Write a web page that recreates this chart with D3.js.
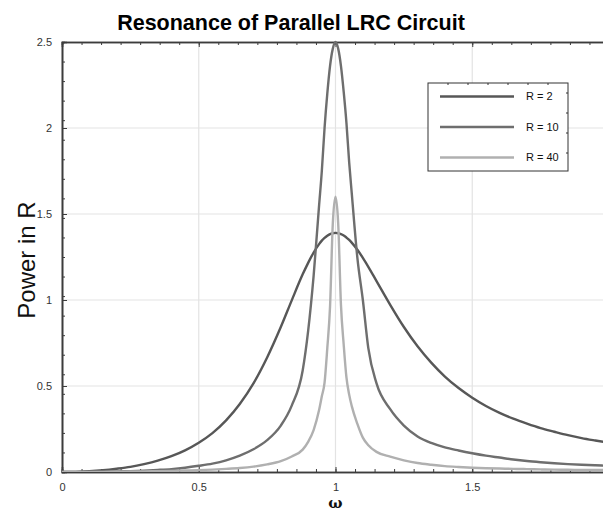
<!DOCTYPE html>
<html><head><meta charset="utf-8">
<script src="https://cdn.jsdelivr.net/npm/d3@7/dist/d3.min.js"></script>
<style>body{margin:0;background:#fff;overflow:hidden}svg{display:block}</style>
</head><body>
<svg id="chart" width="603" height="512"></svg>
<script>
// ---- data ----
const omega = [0,0.05,0.1,0.15,0.2,0.25,0.3,0.35,0.4,0.45,0.5,0.55,0.6,0.65,0.7,0.75,0.8,0.84,0.88,0.9,0.92,0.94,0.95,0.96,0.97,0.98,0.99,1.0,1.01,1.02,1.03,1.04,1.05,1.06,1.08,1.1,1.12,1.15,1.2,1.25,1.3,1.35,1.4,1.45,1.5,1.55,1.6,1.65,1.7,1.75,1.8,1.85,1.9,1.95,2.0];
const powerR2 = [0,0.001,0.004,0.010,0.019,0.030,0.046,0.066,0.092,0.126,0.170,0.226,0.300,0.395,0.515,0.666,0.843,0.998,1.149,1.216,1.276,1.325,1.345,1.361,1.374,1.383,1.388,1.39,1.388,1.383,1.375,1.363,1.349,1.332,1.292,1.245,1.193,1.110,0.972,0.843,0.731,0.636,0.555,0.488,0.432,0.384,0.344,0.310,0.281,0.255,0.234,0.214,0.197,0.183,0.170];
const powerR10 = [0,0.0002,0.0008,0.0017,0.003,0.005,0.008,0.012,0.017,0.025,0.036,0.049,0.068,0.095,0.132,0.185,0.27,0.386,0.59,0.82,1.14,1.55,1.75,2.0,2.2,2.36,2.46,2.5,2.46,2.36,2.21,2.03,1.80,1.61,1.245,1.0,0.72,0.515,0.365,0.27,0.207,0.169,0.143,0.125,0.109,0.095,0.084,0.073,0.064,0.057,0.051,0.046,0.042,0.039,0.036];
const powerR40 = [0,0.0001,0.0005,0.001,0.0016,0.0026,0.0036,0.005,0.0065,0.009,0.011,0.014,0.018,0.023,0.031,0.044,0.063,0.09,0.13,0.175,0.244,0.36,0.44,0.52,0.72,0.96,1.44,1.6,1.44,0.97,0.74,0.55,0.45,0.38,0.28,0.20,0.156,0.117,0.089,0.068,0.052,0.042,0.034,0.029,0.025,0.022,0.02,0.018,0.017,0.015,0.014,0.013,0.012,0.0115,0.011];
const seriesLabels = ["R = 2","R = 10","R = 40"];
const seriesColors = ["#575757","#6e6e6e","#b0b0b0"];
const xTickValues = [0,0.5,1,1.5];
const yTickValues = [0,0.5,1,1.5,2,2.5];
const xDomain = [0,2];
const yDomain = [0,2.5];
const titleText = "Resonance of Parallel LRC Circuit";
const xLabelText = "ω";
const yLabelText = "Power in R";

// ---- layout ----
const svg = d3.select("#chart");
const plot = {left:62, right:609, top:42, bottom:472};
const x = d3.scaleLinear().domain(xDomain).range([plot.left, plot.right]);
const y = d3.scaleLinear().domain(yDomain).range([plot.bottom, plot.top]);
const font = "'Liberation Sans', Arial, Helvetica, sans-serif";

svg.append("defs").append("clipPath").attr("id","clip")
  .append("rect").attr("x",plot.left).attr("y",plot.top-2)
  .attr("width",plot.right-plot.left).attr("height",plot.bottom-plot.top+2);

// grid
const grid = svg.append("g").attr("stroke","#e3e3e3").attr("stroke-width",1.2);
xTickValues.filter(v=>v>0).forEach(v=>{
  grid.append("line").attr("x1",x(v)).attr("x2",x(v)).attr("y1",y(yDomain[0])).attr("y2",y(yDomain[1]));
});
yTickValues.filter(v=>v>0 && v<yDomain[1]).forEach(v=>{
  grid.append("line").attr("x1",x(xDomain[0])).attr("x2",x(xDomain[1])).attr("y1",y(v)).attr("y2",y(v));
});

// minor ticks: equal pixel subdivisions
const xMinor = d3.range(0,29).map(i=>i*2/28);
const yMinor = d3.range(0,23).map(i=>i*2.5/22);

// axes (ticks inward)
const axCol = "#3c3c3c";
const bottomAxis = svg.append("g").attr("transform",`translate(0,${plot.bottom})`)
  .call(d3.axisBottom(x).tickValues(xMinor).tickSize(-3).tickFormat(""));
const bottomMajor = svg.append("g").attr("transform",`translate(0,${plot.bottom})`)
  .call(d3.axisBottom(x).tickValues(xTickValues).tickSize(-5).tickPadding(11).tickFormat(d3.format("")));
const topAxis = svg.append("g").attr("transform",`translate(0,${plot.top})`)
  .call(d3.axisTop(x).tickValues(xMinor).tickSize(-3).tickFormat(""));
const topMajor = svg.append("g").attr("transform",`translate(0,${plot.top})`)
  .call(d3.axisTop(x).tickValues(xTickValues).tickSize(-5).tickFormat(""));
const leftAxis = svg.append("g").attr("transform",`translate(${plot.left},0)`)
  .call(d3.axisLeft(y).tickValues(yMinor).tickSize(-3).tickFormat(""));
const leftMajor = svg.append("g").attr("transform",`translate(${plot.left},0)`)
  .call(d3.axisLeft(y).tickValues(yTickValues).tickSize(-5).tickPadding(10).tickFormat(d3.format("")));
[bottomAxis,bottomMajor,topAxis,topMajor,leftAxis,leftMajor].forEach(g=>{
  g.selectAll(".domain").attr("stroke",axCol).attr("stroke-width",1.6);
  g.selectAll(".tick line").attr("stroke",axCol).attr("stroke-width",1);
  g.selectAll(".tick text").attr("fill","#333").style("font-family",font).style("font-size","11px");
});

// curves
const series = [powerR2, powerR10, powerR40];
const line = d3.line().x((d,i)=>x(omega[i])).y(d=>y(d)).curve(d3.curveMonotoneX);
const curves = svg.append("g").attr("clip-path","url(#clip)");
series.forEach((vals,k)=>{
  curves.append("path").datum(vals).attr("d",line).attr("fill","none")
    .attr("stroke",seriesColors[k]).attr("stroke-width",2.4).attr("stroke-linejoin","round");
});

// legend
const lg = {x:428, y:83, w:140, h:88};
const legend = svg.append("g");
legend.append("rect").attr("x",lg.x).attr("y",lg.y).attr("width",lg.w).attr("height",lg.h)
  .attr("fill","#fff").attr("stroke","#333").attr("stroke-width",1);
d3.range(lg.x+20, lg.x+lg.w-2, 20).forEach(tx=>{
  legend.append("line").attr("x1",tx).attr("x2",tx).attr("y1",lg.y).attr("y2",lg.y+2)
    .attr("stroke","#333").attr("stroke-width",1);
});
d3.range(lg.y+10, lg.y+lg.h-2, 20).forEach(ty=>{
  legend.append("line").attr("x1",lg.x+lg.w-2).attr("x2",lg.x+lg.w).attr("y1",ty).attr("y2",ty)
    .attr("stroke","#333").attr("stroke-width",1);
});
seriesLabels.forEach((lab,k)=>{
  const ly = lg.y + 13.5 + k*30.5;
  legend.append("line").attr("x1",lg.x+12).attr("x2",lg.x+86).attr("y1",ly).attr("y2",ly)
    .attr("stroke",seriesColors[k]).attr("stroke-width",2.4);
  legend.append("text").attr("x",lg.x+98).attr("y",ly).attr("dy","0.35em")
    .style("font-family",font).style("font-size","11px").attr("fill","#111").text(lab);
});

// titles
svg.append("text").attr("x",291).attr("y",30).attr("text-anchor","middle")
  .style("font-family",font).style("font-size","21.5px").style("font-weight","bold").attr("fill","#000").text(titleText);
svg.append("text").attr("x",(plot.left+plot.right)/2).attr("y",508).attr("text-anchor","middle")
  .style("font-family","'DejaVu Serif', serif").style("font-size","15px").style("font-weight","bold").attr("fill","#111").text(xLabelText);
svg.append("text").attr("transform",`translate(35,260) rotate(-90)`).attr("text-anchor","middle")
  .style("font-family",font).style("font-size","24px").attr("fill","#111").text(yLabelText);
</script>
</body></html>
